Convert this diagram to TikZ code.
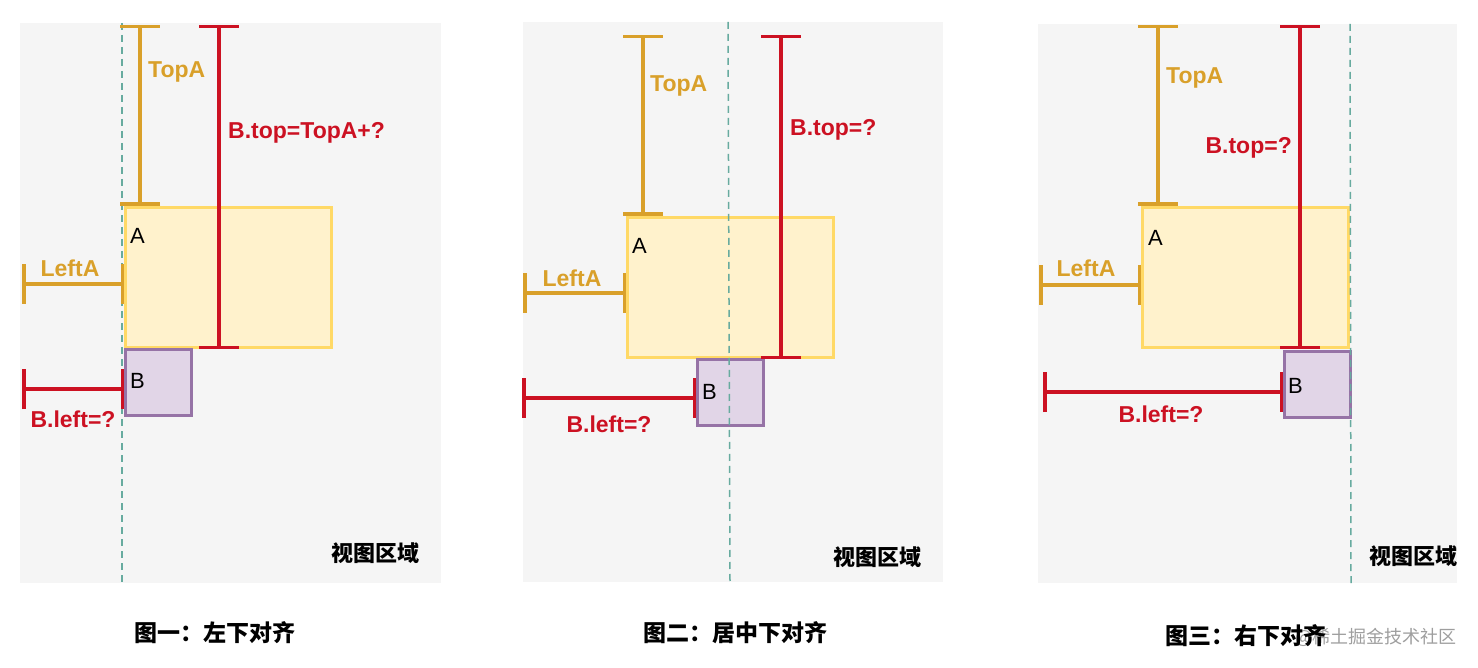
\documentclass[tikz,border=0pt]{standalone}
\usepackage{fontspec}
\setmainfont{Liberation Sans}
\newfontfamily\cjk{Noto Sans CJK SC}
\usepackage{xcolor}
\usetikzlibrary{arrows.meta, positioning}

\definecolor{viewbg}{HTML}{F5F5F5}
\definecolor{guideteal}{HTML}{67AB9F}
\definecolor{dimgold}{HTML}{D9A02A}
\definecolor{dimred}{HTML}{CC1122}
\definecolor{boxafill}{HTML}{FFF2CC}
\definecolor{boxaline}{HTML}{FFD966}
\definecolor{boxbfill}{HTML}{E1D5E7}
\definecolor{boxbline}{HTML}{9673A6}

\begin{document}
\begin{tikzpicture}[x=1pt, y=-1pt,
    view/.style={fill=viewbg, draw=none},
    guide/.style={draw=guideteal, line width=1.5pt, dash pattern=on 7pt off 5pt},
    boxa/.style={draw=boxaline, fill=boxafill, line width=3pt, minimum width=206pt, minimum height=140pt, inner sep=0pt, anchor=north west},
    boxb/.style={draw=boxbline, fill=boxbfill, line width=3pt, minimum width=66pt, minimum height=66pt, inner sep=0pt, anchor=north west},
    goldbar/.style={draw=dimgold, line width=3.5pt, {Bar[width=40pt, line width=3.5pt]}-{Bar[width=40pt, line width=3.5pt]}},
    redbar/.style={draw=dimred, line width=3.5pt, {Bar[width=40pt, line width=3.5pt]}-{Bar[width=40pt, line width=3.5pt]}},
    goldtxt/.style={text=dimgold, inner sep=0pt, font=\bfseries\fontsize{23}{27}\selectfont},
    redtxt/.style={text=dimred, inner sep=0pt, font=\bfseries\fontsize{23}{27}\selectfont},
    boxtxt/.style={inner sep=0pt, anchor=west, font=\fontsize{22}{26}\selectfont},
    areatxt/.style={inner sep=0pt, font=\cjk\bfseries\fontsize{22}{26}\selectfont},
    captxt/.style={inner sep=0pt, font=\cjk\bfseries\fontsize{23}{27}\selectfont}
]
    \useasboundingbox (0,0) rectangle (1478,668);

    % View areas
    \fill[view] (20,23) rectangle (441,583);
    \fill[view] (523,22) rectangle (943,582);
    \fill[view] (1038,24) rectangle (1457,583);

    % Boxes A and B
    \node[boxa] (a1) at (124,206) {};
    \node[boxb] (b1) at (124,348) {};
    \node[boxa] (a2) at (626,216) {};
    \node[boxb] (b2) at (696,358) {};
    \node[boxa] (a3) at (1141,206) {};
    \node[boxb] (b3) at (1283,350) {};

    \node[boxtxt] (la1) at (130,236) {A};
    \node[boxtxt] (lb1) at (130,381) {B};
    \node[boxtxt] (la2) at (632,246) {A};
    \node[boxtxt] (lb2) at (702,392) {B};
    \node[boxtxt] (la3) at (1148,238) {A};
    \node[boxtxt] (lb3) at (1288,386) {B};

    % Alignment guides
    \coordinate (g1top) at (122,23);
    \coordinate (g1bot) at (122,583);
    \coordinate (g2top) at (728,22);
    \coordinate (g2bot) at (730,582);
    \coordinate (g3top) at (1350,24);
    \coordinate (g3bot) at (1351,583);
    \draw[guide] (g1top) -- (g1bot);
    \draw[guide] (g2top) -- (g2bot);
    \draw[guide] (g3top) -- (g3bot);

    % Figure one: left bottom
    \coordinate (ta1) at (140,25);
    \coordinate (bt1) at (219,25);
    \coordinate (la1end) at (22,284);
    \coordinate (bl1end) at (22,389);
    \draw[goldbar] (ta1) -- (ta1 |- a1.north);
    \draw[redbar] (bt1) -- (bt1 |- a1.south);
    \draw[goldbar] (la1end) -- (la1end -| a1.west);
    \draw[redbar] (bl1end) -- (bl1end -| b1.west);
    \node[goldtxt, anchor=west] (tta1) at (148,72) {TopA};
    \node[redtxt, anchor=west] (tbt1) at (228,133) {B.top=TopA+?};
    \node[goldtxt] (tla1) at (70,268) {LeftA};
    \node[redtxt] (tbl1) at (73,419) {B.left=?};
    \node[areatxt, anchor=east] (area1) at (420,553) {视图区域};

    % Figure two: center bottom
    \coordinate (ta2) at (643,35);
    \coordinate (bt2) at (781,35);
    \coordinate (la2end) at (523,293);
    \coordinate (bl2end) at (522,398);
    \draw[goldbar] (ta2) -- (ta2 |- a2.north);
    \draw[redbar] (bt2) -- (bt2 |- a2.south);
    \draw[goldbar] (la2end) -- (la2end -| a2.west);
    \draw[redbar] (bl2end) -- (bl2end -| b2.west);
    \node[goldtxt, anchor=west] (tta2) at (650,86) {TopA};
    \node[redtxt, anchor=west] (tbt2) at (790,130) {B.top=?};
    \node[goldtxt] (tla2) at (572,278) {LeftA};
    \node[redtxt] (tbl2) at (609,424) {B.left=?};
    \node[areatxt, anchor=east] (area2) at (922,557) {视图区域};

    % Figure three: right bottom
    \coordinate (ta3) at (1158,25);
    \coordinate (bt3) at (1300,25);
    \coordinate (la3end) at (1039,285);
    \coordinate (bl3end) at (1043,392);
    \draw[goldbar] (ta3) -- (ta3 |- a3.north);
    \draw[redbar] (bt3) -- (bt3 |- a3.south);
    \draw[goldbar] (la3end) -- (la3end -| a3.west);
    \draw[redbar] (bl3end) -- (bl3end -| b3.west);
    \node[goldtxt, anchor=west] (tta3) at (1166,78) {TopA};
    \node[redtxt, anchor=east] (tbt3) at (1292,148) {B.top=?};
    \node[goldtxt] (tla3) at (1086,268) {LeftA};
    \node[redtxt] (tbl3) at (1161,414) {B.left=?};
    \node[areatxt, anchor=east] (area3) at (1458,556) {视图区域};

    % Captions
    \node[captxt] (cap1) at (215,633) {图一：左下对齐};
    \node[captxt] (cap2) at (735,633) {图二：居中下对齐};
    \node[inner sep=0pt, anchor=east, text=black!38, font=\cjk\fontsize{18}{22}\selectfont] (mark) at (1457,637) {@稀土掘金技术社区};
    \node[captxt, anchor=west] (cap3) at (1165,636) {图三：右下对齐};
\end{tikzpicture}
\end{document}
